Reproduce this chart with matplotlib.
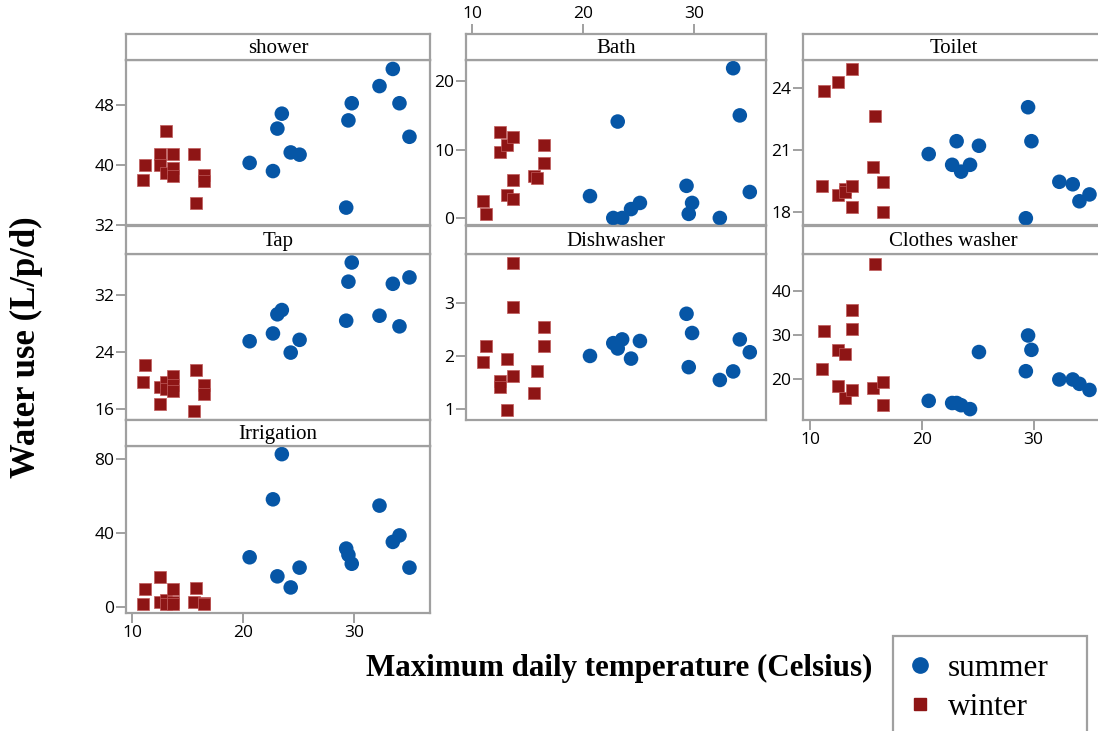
import matplotlib.pyplot as plt
from matplotlib.lines import Line2D
from matplotlib.patches import Rectangle

# temperatures of the sampled days (Celsius)
winter_temp = [11.0, 11.2, 12.5, 12.5, 13.1, 13.1, 13.7, 13.7, 13.7, 15.6, 15.8, 16.5, 16.5]
summer_temp = [20.6, 22.7, 23.1, 23.5, 24.3, 25.1, 29.3, 29.5, 29.8, 32.3, 33.5, 34.1, 35.0]

# water use per end use (L/p/d), same day order as the temperatures
shower_summer = [40.3, 39.2, 44.9, 46.9, 41.7, 41.4, 34.3, 46.0, 48.3, 50.6, 52.9, 48.3, 43.8]
shower_winter = [38.0, 40.0, 41.5, 40.0, 44.6, 38.9, 41.5, 39.6, 38.5, 41.5, 34.9, 38.7, 37.9]

tap_summer = [25.5, 26.6, 29.3, 29.9, 23.9, 25.7, 28.4, 33.9, 36.6, 29.1, 33.6, 27.6, 34.5]
tap_winter = [19.7, 22.1, 19.0, 16.7, 19.8, 18.8, 20.6, 19.3, 18.5, 15.7, 21.5, 19.4, 18.1]

irrigation_summer = [26.8, 58.1, 16.5, 82.5, 10.5, 21.2, 31.5, 28.1, 23.3, 54.7, 35.1, 38.6, 21.2]
irrigation_winter = [1.4, 9.4, 16.3, 2.7, 3.6, 1.3, 9.4, 2.7, 1.3, 2.5, 10.3, 2.2, 1.4]

bath_summer = [3.2, 0.0, 14.1, 0.0, 1.3, 2.2, 4.7, 0.6, 2.2, 0.0, 21.9, 15.0, 3.8]
bath_winter = [2.5, 0.6, 12.5, 9.7, 3.4, 10.6, 11.9, 5.6, 2.8, 6.2, 5.9, 10.6, 8.1]

dish_summer = [2.00, 2.24, 2.14, 2.31, 1.95, 2.28, 2.79, 1.79, 2.43, 1.55, 1.71, 2.31, 2.07]
dish_winter = [1.88, 2.19, 1.53, 1.41, 1.95, 0.99, 3.75, 2.91, 1.63, 1.31, 1.71, 2.54, 2.19]

toilet_summer = [20.8, 20.28, 21.42, 19.95, 20.28, 21.2, 17.7, 23.06, 21.42, 19.46, 19.34, 18.52, 18.85]
toilet_winter = [19.26, 23.86, 24.3, 18.83, 19.09, 18.96, 24.9, 19.26, 18.22, 20.16, 22.64, 19.44, 18.0]

clothes_summer = [14.9, 14.4, 14.4, 13.9, 13.0, 26.1, 21.7, 29.9, 26.6, 19.8, 19.8, 18.8, 17.4]
clothes_winter = [22.2, 30.9, 26.5, 18.3, 25.6, 15.5, 35.8, 31.4, 17.4, 17.8, 46.4, 19.2, 14.0]

panel_names = ['shower', 'Tap', 'Irrigation', 'Bath', 'Dishwasher', 'Toilet', 'Clothes washer']
panel_summer = [shower_summer, tap_summer, irrigation_summer, bath_summer,
                dish_summer, toilet_summer, clothes_summer]
panel_winter = [shower_winter, tap_winter, irrigation_winter, bath_winter,
                dish_winter, toilet_winter, clothes_winter]
panel_yticks = [[32, 40, 48], [16, 24, 32], [0, 40, 80], [0, 10, 20],
                [1, 2, 3], [18, 21, 24], [20, 30, 40]]
x_ticks = [10, 20, 30]

# layout (pixel positions of the panels)
W, H = 1098, 731
panel_col = [0, 0, 0, 1, 1, 2, 2]
panel_row = [0, 1, 2, 0, 1, 0, 1]
panel_ylim = [(31.9, 54.1), (14.4, 37.8), (-3.3, 86.9), (-1.1, 23.1),
              (0.8, 3.91), (17.35, 25.34), (10.5, 48.6)]
col_px = [(126, 430), (466, 766), (803, 1104)]
col_xlim = [(9.46, 36.85), (9.43, 36.46), (9.34, 36.3)]
row_px = [(34, 60, 225.5), (225.5, 254, 420), (420, 446, 613)]

blue = '#0656a6'
red = '#8e1515'
gray = '#a0a0a0'
plt.rcParams['font.family'] = 'Open Sans'
tick_style = dict(colors=gray, length=7, width=1.4, pad=1.5, labelcolor='black',
                  labelsize=12.5)


def fig_rect(x0, y0, x1, y1):
    return [x0 / W, 1 - y1 / H, (x1 - x0) / W, (y1 - y0) / H]


fig = plt.figure(figsize=(W / 100, H / 100), dpi=100)

for i, name in enumerate(panel_names):
    c, r = panel_col[i], panel_row[i]
    x0, x1 = col_px[c]
    htop, hbot, dbot = row_px[r]

    ax = fig.add_axes(fig_rect(x0, hbot, x1, dbot))
    ax.scatter(summer_temp, panel_summer[i], s=110, marker='o', color=blue,
               edgecolors='none', zorder=3)
    ax.scatter(winter_temp, panel_winter[i], s=72, marker='s', color=red,
               edgecolors='#c05a5a', linewidths=0.5, zorder=3)
    ax.set_xlim(col_xlim[c])
    ax.set_ylim(panel_ylim[i])
    ax.set_yticks(panel_yticks[i])
    ax.set_xticks(x_ticks)
    for sp in ax.spines.values():
        sp.set_color(gray)
        sp.set_linewidth(1.6)
    ax.tick_params(axis='both', **tick_style)
    last_in_col = (c == 0 and r == 2) or (c == 2 and r == 1)
    if not last_in_col:
        ax.tick_params(axis='x', bottom=False, labelbottom=False)

    hax = fig.add_axes(fig_rect(x0, htop, x1, hbot))
    hax.set_xlim(col_xlim[c])
    hax.set_yticks([])
    for sp in hax.spines.values():
        sp.set_color(gray)
        sp.set_linewidth(1.6)
    hax.text(0.5, 0.45, name, transform=hax.transAxes, ha='center', va='center',
             family='Liberation Serif', fontsize=15)
    if c == 1 and r == 0:
        hax.set_xticks(x_ticks)
        hax.xaxis.tick_top()
        hax.tick_params(axis='x', **tick_style)
    else:
        hax.set_xticks([])

fig.text(26 / W, 1 - 347 / H, 'Water use (L/p/d)', rotation=90, ha='center', va='center',
         family='Liberation Serif', fontweight='bold', fontsize=25)
fig.text(619 / W, 1 - 668 / H, 'Maximum daily temperature (Celsius)', ha='center', va='center',
         family='Liberation Serif', fontweight='bold', fontsize=22.3)

# legend box runs off the bottom of the image, like the reference
fig.add_artist(Rectangle((893 / W, 1 - 745 / H), 194 / W, 109 / H, transform=fig.transFigure,
                         fill=False, edgecolor=gray, linewidth=1.6))
handles = [Line2D([], [], ls='none', marker='o', markersize=11, color=blue),
           Line2D([], [], ls='none', marker='s', markersize=9, color=red)]
fig.legend(handles, ['summer', 'winter'], loc='upper left',
           bbox_to_anchor=(889 / W, 1 - 636 / H),
           prop={'family': 'Liberation Serif', 'size': 22.5},
           frameon=False, borderpad=0.58, labelspacing=0.31,
           handletextpad=0.5, handlelength=0.8, borderaxespad=0)

plt.savefig('out.png', dpi=100)
